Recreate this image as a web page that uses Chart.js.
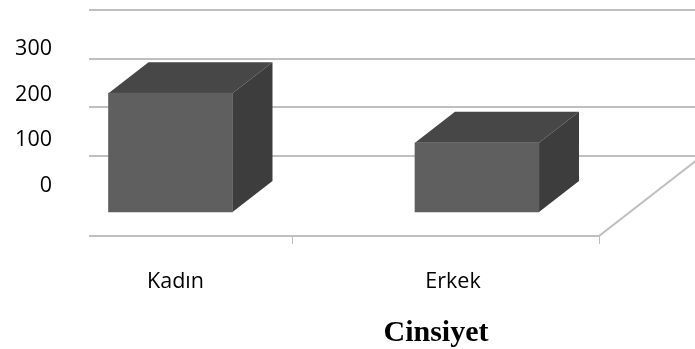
<!DOCTYPE html>
<html>
<head>
<meta charset="utf-8">
<script src="https://cdn.jsdelivr.net/npm/chart.js@4/dist/chart.umd.min.js"></script>
<style>
  html, body { margin: 0; padding: 0; background: #ffffff; }
  #wrap { width: 695px; height: 349px; }
</style>
</head>
<body>
<div id="wrap"><canvas id="c" width="695" height="349"></canvas></div>
<script>
// Participants by gender
const categories = ['Kadın', 'Erkek'];
const counts = [244, 142];
const yTickValues = [0, 100, 200, 300];
const axisTitle = 'Cinsiyet';

// Oblique 3D look: depth of each box and of the back wall
const BOX_DX = 40, BOX_DY = -31;
const WALL_DY = -56;
const FLOOR_DX = 40 / 31;   // horizontal run per pixel of rise on the floor side edge
const FRONT_COLOR = '#5f5f5f';
const TOP_COLOR = '#474747';
const SIDE_COLOR = '#3d3d3d';
const GRID_COLOR = '#bfbfbf';
const LABEL_FONT = { family: '"Open Sans"', size: 21.5 };

const fixedTicks = values => scale => { scale.ticks = values.map(v => ({ value: v })); };
// keep label padding from pushing the plot area around
const fixedBox = (w, h) => scale => {
  if (w !== null) scale.width = w;
  if (h !== null) scale.height = h;
  scale.paddingTop = scale.paddingBottom = scale.paddingLeft = scale.paddingRight = 0;
};

const box3d = {
  id: 'box3d',
  beforeDatasetsDraw(chart) {
    const { ctx, chartArea, scales } = chart;
    const y = scales.y;
    ctx.save();
    // back wall gridlines
    ctx.strokeStyle = GRID_COLOR;
    ctx.lineWidth = 2;
    yTickValues.forEach(v => {
      const py = Math.round(y.getPixelForValue(v) + WALL_DY);
      ctx.beginPath();
      ctx.moveTo(chartArea.left, py);
      ctx.lineTo(chart.width, py);
      ctx.stroke();
    });
    // floor edges
    const floorY = chartArea.bottom;
    const cornerX = 599;
    const backY = y.getPixelForValue(0) + WALL_DY;
    ctx.beginPath();
    ctx.moveTo(chartArea.left, floorY);
    ctx.lineTo(cornerX, floorY);
    ctx.lineTo(cornerX + (floorY - backY) * FLOOR_DX, backY);
    ctx.stroke();
    // category separator ticks under the floor
    ctx.lineWidth = 1;
    [292.5, 599.5].forEach(tx => {
      ctx.beginPath();
      ctx.moveTo(tx, floorY);
      ctx.lineTo(tx, floorY + 8);
      ctx.stroke();
    });
    // top and side faces of each box
    chart.getDatasetMeta(0).data.forEach(bar => {
      const p = bar.getProps(['x', 'y', 'base', 'width'], true);
      const xl = p.x - p.width / 2, xr = p.x + p.width / 2;
      ctx.fillStyle = TOP_COLOR;
      ctx.beginPath();
      ctx.moveTo(xl, p.y);
      ctx.lineTo(xl + BOX_DX, p.y + BOX_DY);
      ctx.lineTo(xr + BOX_DX, p.y + BOX_DY);
      ctx.lineTo(xr, p.y);
      ctx.closePath();
      ctx.fill();
      ctx.fillStyle = SIDE_COLOR;
      ctx.beginPath();
      ctx.moveTo(xr, p.y);
      ctx.lineTo(xr + BOX_DX, p.y + BOX_DY);
      ctx.lineTo(xr + BOX_DX, p.base + BOX_DY);
      ctx.lineTo(xr, p.base);
      ctx.closePath();
      ctx.fill();
    });
    ctx.restore();
  },
  afterDraw(chart) {
    const { ctx } = chart;
    ctx.save();
    ctx.fillStyle = '#000000';
    ctx.font = 'bold 30px "Liberation Serif", "Times New Roman", serif';
    ctx.textAlign = 'center';
    ctx.textBaseline = 'alphabetic';
    ctx.fillText(axisTitle, 436, 341);
    ctx.restore();
  }
};

new Chart(document.getElementById('c'), {
  type: 'bar',
  data: {
    datasets: [{
      data: categories.map((c, i) => ({ x: i, y: counts[i] })),
      backgroundColor: FRONT_COLOR,
      borderWidth: 0,
      barThickness: 124,
      xAxisID: 'x',
      yAxisID: 'y'
    }]
  },
  options: {
    responsive: false,
    animation: false,
    layout: { padding: { top: 10, right: 0, bottom: 0, left: 0 } },
    plugins: { legend: { display: false }, tooltip: { enabled: false }, title: { display: false } },
    scales: {
      x: {
        type: 'linear', display: false, offset: false, min: -0.2659, max: 1.7113,
        afterBuildTicks: fixedTicks([0, 1])
      },
      y: {
        type: 'linear', display: false, offset: false, min: -49.3, max: 414.8
      },
      xl: {
        type: 'linear', position: 'bottom', offset: false, min: -0.3117, max: 1.8721,
        afterBuildTicks: fixedTicks([0, 1]),
        afterFit: fixedBox(null, 113),
        grid: { display: false, drawTicks: false, offset: false },
        border: { display: false },
        ticks: {
          padding: 33, maxRotation: 0, autoSkip: false,
          color: '#000000',
          font: LABEL_FONT,
          callback: v => categories[v]
        }
      },
      yl: {
        type: 'linear', position: 'left', offset: false, min: -109.8, max: 384.7,
        afterBuildTicks: fixedTicks(yTickValues),
        afterFit: fixedBox(89, null),
        grid: { display: false, drawTicks: false },
        border: { display: false },
        ticks: {
          padding: 37, autoSkip: false,
          color: '#000000',
          font: LABEL_FONT
        }
      }
    }
  },
  plugins: [box3d]
});
</script>
</body>
</html>
